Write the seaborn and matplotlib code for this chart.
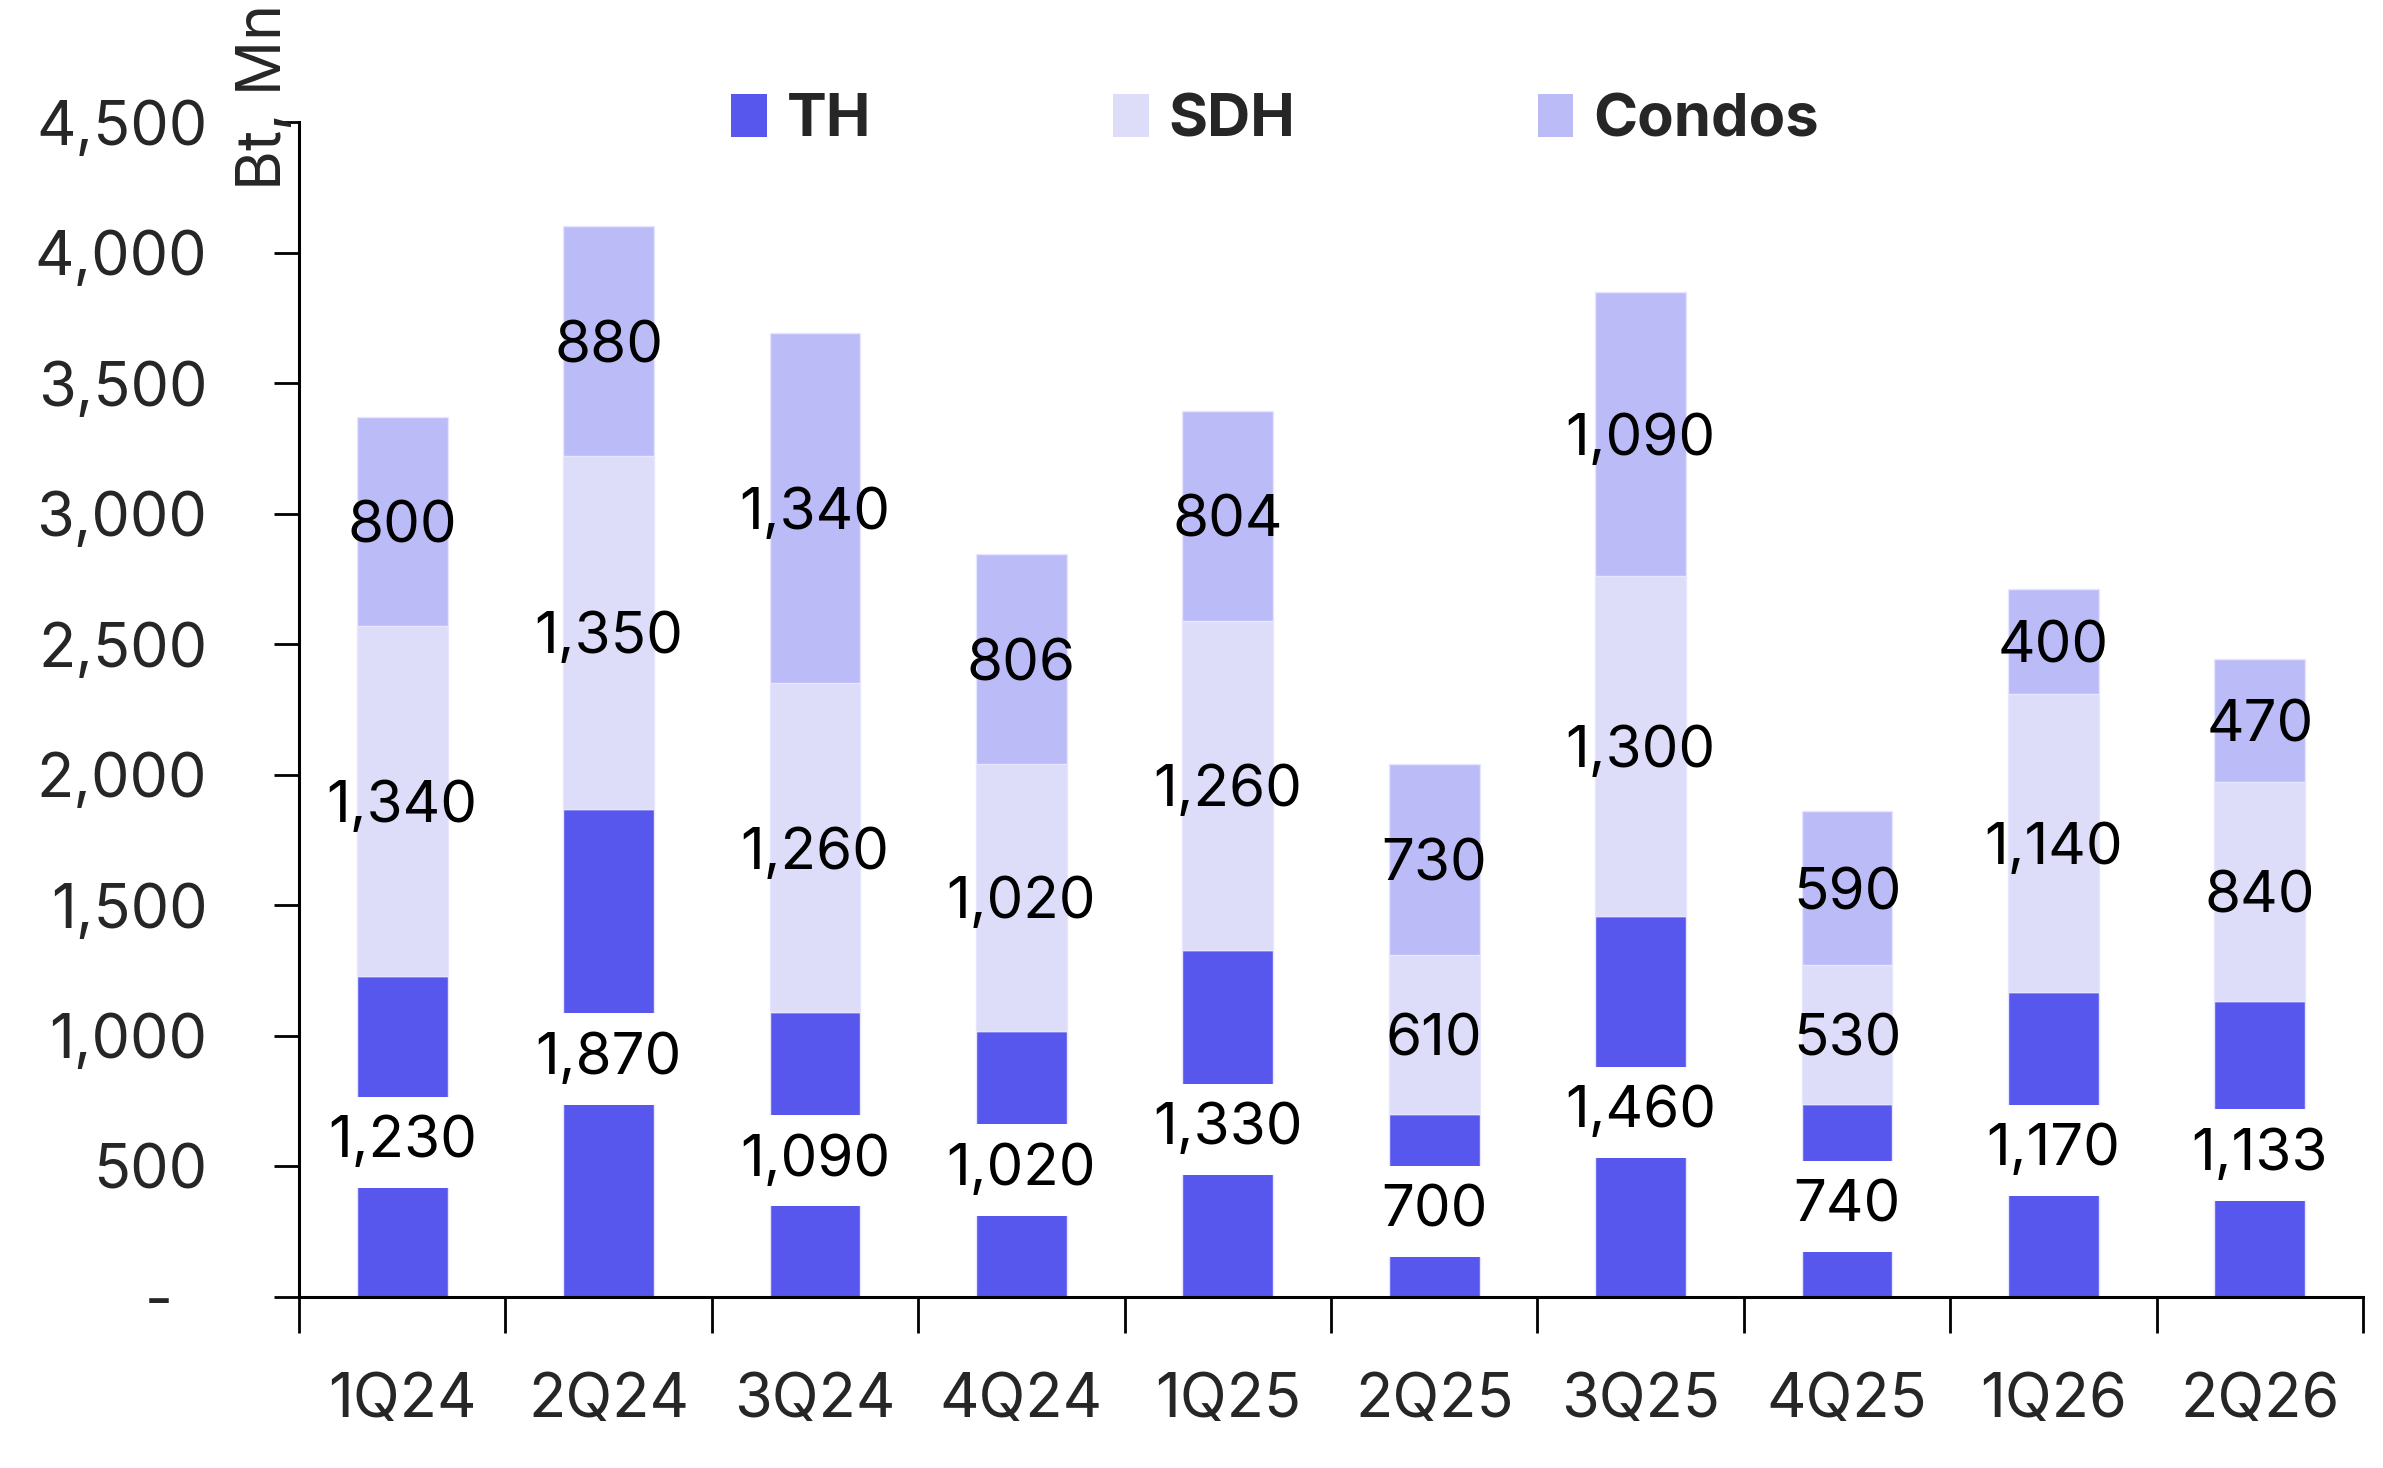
import matplotlib
matplotlib.use("Agg")
import matplotlib.pyplot as plt
import seaborn as sns
import numpy as np
import pandas as pd
from matplotlib.patches import Patch

categories = ["1Q24", "2Q24", "3Q24", "4Q24", "1Q25", "2Q25", "3Q25", "4Q25", "1Q26", "2Q26"]
th = [1230, 1870, 1090, 1020, 1330, 700, 1460, 740, 1170, 1133]
sdh = [1340, 1350, 1260, 1020, 1260, 610, 1300, 530, 1140, 840]
condos = [800, 880, 1340, 806, 804, 730, 1090, 590, 400, 470]
series_names = ["TH", "SDH", "Condos"]
colors = ["#5757EE", "#DDDDFA", "#BBBBF8"]
yticks = [0, 500, 1000, 1500, 2000, 2500, 3000, 3500, 4000, 4500]
ytick_labels = ["-  ", "500", "1,000", "1,500", "2,000", "2,500", "3,000", "3,500", "4,000", "4,500"]

sns.set_theme(style="white")
FONT = ["Inter", "DejaVu Sans"]
plt.rcParams["font.family"] = FONT

fig = plt.figure(figsize=(23.83, 14.68), dpi=100)
ax = fig.add_axes([299 / 2383, 1 - 1297 / 1468, (2363 - 299) / 2383, (1297 - 122) / 1468])

df = pd.DataFrame({"Quarter": categories, "TH": th, "SDH": sdh, "Condos": condos})
bottoms = np.zeros(len(categories))
for i, (name, col) in enumerate(zip(series_names, colors)):
    sns.barplot(data=df, x="Quarter", y=name, color=col, ax=ax, width=0.44,
                bottom=bottoms.copy(), saturation=1, edgecolor="#E6E6FF", linewidth=1)
    bottoms = bottoms + df[name].to_numpy()

for i, cont in enumerate(ax.containers):
    vals = df[series_names[i]].to_numpy()
    for patch, v in zip(cont.patches, vals):
        xc = patch.get_x() + patch.get_width() / 2
        yc = patch.get_y() + patch.get_height() / 2
        kw = {}
        if i == 0:
            kw["bbox"] = dict(facecolor="white", edgecolor="none", boxstyle="square,pad=0.32")
        ax.text(xc, yc, f"{v:,.0f}", ha="center", va="center_baseline", fontsize=42,
                color="black", zorder=5, **kw)

ax.set_xlim(-0.5, len(categories) - 0.5)
ax.set_ylim(0, 4500)
ax.set_yticks(yticks)
ax.set_yticklabels(ytick_labels, fontsize=44)
ax.set_xticks(range(len(categories)))
ax.set_xticklabels(categories, fontsize=44)
ax.set_xticks(np.arange(-0.5, len(categories), 1.0), minor=True)
ax.tick_params(axis="x", which="major", length=0, pad=54)
ax.tick_params(axis="x", which="minor", length=26, width=2, color="black", direction="out", bottom=True)
ax.tick_params(axis="y", which="major", length=18, width=2, color="black", direction="out", pad=48, left=True)
ax.set_xlabel("")
ax.set_ylabel("")
for s in ["top", "right"]:
    ax.spines[s].set_visible(False)
for s in ["left", "bottom"]:
    ax.spines[s].set_color("black")
    ax.spines[s].set_linewidth(2.2)
ax.grid(False)

fig.text(265 / 2383, 1 - 190 / 1468, "Bt, Mn", rotation=90, ha="center", va="bottom", fontsize=44)

handles = [Patch(facecolor=c, edgecolor="none") for c in colors]
fig.legend(handles, series_names, loc="center", bbox_to_anchor=(1275 / 2383, 1 - 121 / 1468),
           ncol=3, frameon=False, prop={"size": 43, "weight": "bold", "family": FONT},
           handlelength=0.6, handleheight=0.72, handletextpad=0.33, columnspacing=4.05)

fig.savefig("out.png", dpi=100, facecolor="white")
